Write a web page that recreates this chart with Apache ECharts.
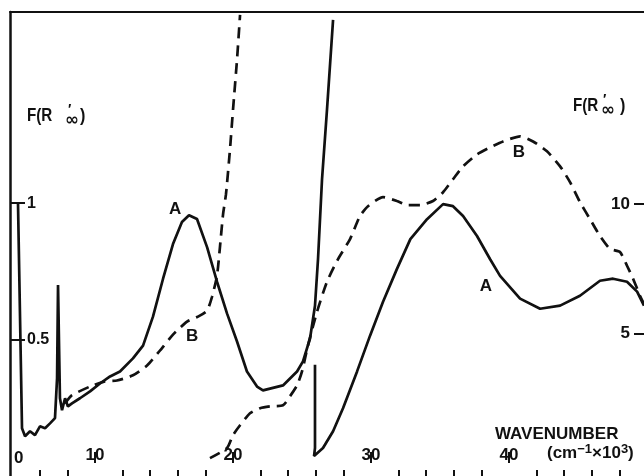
<!DOCTYPE html>
<html>
<head>
<meta charset="utf-8">
<script src="https://cdn.jsdelivr.net/npm/echarts@6/dist/echarts.min.js"></script>
<style>
html,body{margin:0;padding:0;background:#fff;}
#chart{width:644px;height:476px;}
</style>
</head>
<body>
<div id="chart"></div>
<script>
// ---- axis ranges ----
const xRange = [3.84, 49.78];
const leftRange = [0, 1.7007];
const rightRange = [-0.5, 17.42];

// ---- ticks ----
const xMajorTicks = [10, 20, 30, 40];
const xMinorTicks = [6, 8, 12, 14, 16, 18, 22, 24, 26, 28, 32, 34, 36, 38, 42, 44, 46, 48];
const leftTicks = [0.5, 1];
const rightTicks = [5, 10];

// ---- curves (wavenumber x10^3, F(R'inf)) ----
// left scale (0..1)
const curveA_left = [
  [4.42,1.00],[4.71,0.175],[4.93,0.146],[5.29,0.164],[5.65,0.150],[6.01,0.182],[6.38,0.175],
  [6.74,0.193],[7.10,0.212],[7.25,0.358],[7.32,0.70],[7.46,0.285],[7.61,0.241],[7.83,0.285],
  [8.04,0.255],[8.33,0.266],[8.91,0.285],[9.64,0.310],[10.36,0.339],[11.09,0.365],[11.81,0.383],
  [12.75,0.431],[13.48,0.478],[14.20,0.584],[14.93,0.723],[15.65,0.850],[16.30,0.931],[16.81,0.956],
  [17.39,0.942],[18.12,0.839],[18.84,0.712],[19.57,0.595],[20.29,0.493],[21.01,0.383],[21.74,0.328],
  [22.17,0.314],[23.62,0.332],[24.64,0.383],[25.07,0.420],[25.58,0.504],[25.94,0.624],[26.16,0.796],
  [26.45,1.088],[26.81,1.343],[27.25,1.672]
];
const curveB_left = [
  [7.83,0.266],[8.33,0.296],[9.64,0.328],[10.72,0.347],[11.59,0.350],[12.75,0.369],[13.77,0.405],
  [14.71,0.460],[15.65,0.518],[16.67,0.566],[17.46,0.584],[18.12,0.606],[18.48,0.657],[18.84,0.734],
  [19.06,0.843],[19.28,0.960],[19.49,1.033],[19.78,1.197],[20.00,1.343],[20.29,1.526],[20.51,1.690]
];
// right scale (0..10+)
const curveA_right = [
  [25.94,3.80],[25.94,0.58],[25.87,0.27],[26.52,0.58],[27.25,1.23],[27.97,2.12],[28.99,3.54],
  [29.93,4.92],[30.87,6.23],[31.88,7.50],[32.85,8.65],[34.06,9.42],[35.22,10.0],[35.94,9.92],
  [36.67,9.54],[37.68,8.77],[38.62,7.88],[39.35,7.23],[40.80,6.35],[42.25,5.96],[43.70,6.08],
  [45.14,6.46],[46.59,7.04],[47.54,7.12],[48.55,7.00],[49.28,6.62],[49.78,6.08]
];
const curveB_right = [
  [18.33,0.19],[19.57,0.58],[20.00,1.08],[20.51,1.46],[21.23,1.92],[21.96,2.12],[22.68,2.19],
  [23.62,2.23],[24.13,2.58],[24.64,3.00],[25.00,3.54],[25.43,4.54],[26.09,5.85],[26.81,7.00],
  [27.61,7.88],[28.48,8.65],[29.20,9.54],[29.78,9.92],[30.87,10.27],[31.88,10.12],[32.68,9.96],
  [33.55,9.96],[34.49,10.12],[35.22,10.46],[35.94,10.96],[36.67,11.46],[37.68,11.92],[38.62,12.19],
  [39.57,12.42],[40.80,12.62],[41.74,12.42],[42.75,12.04],[43.70,11.46],[44.42,10.85],[45.14,10.08],
  [45.87,9.42],[46.59,8.77],[47.32,8.27],[48.04,8.15],[48.55,7.62],[48.99,7.12],[49.49,6.46],[49.78,6.15]
];

// ---- curve labels (data coords) ----
const labelA_left = [15.8, 0.978];
const labelB_left = [17.03, 0.511];
const labelA_right = [38.33, 6.81];
const labelB_right = [40.72, 12.0];

const FONT = 'Liberation Sans';
const INK = '#111';

function lbl(text, coord) {
  return {
    coord: coord, value: text, symbol: 'circle', symbolSize: 0,
    label: {show: true, position: 'inside', formatter: text, color: INK,
            fontFamily: FONT, fontWeight: 'bold', fontSize: 17}
  };
}

const solid = {color: INK, width: 2.7, type: 'solid'};
const dashed = {color: INK, width: 2.7, type: [11, 7]};

function frLabel(x, y, infX, closeX, primeX) {
  return {
    type: 'group', left: x, top: y,
    children: [
      {type: 'text', x: 0, y: 0, scaleX: 0.8, style: {text: 'F(R', fill: INK, font: 'bold 19px "Liberation Sans"'}},
      {type: 'text', x: primeX, y: -3, style: {text: '′', fill: INK, font: 'bold 14px "Liberation Sans"'}},
      {type: 'text', x: infX, y: 6, style: {text: '∞', fill: INK, font: 'bold 17px "DejaVu Sans"'}},
      {type: 'text', x: closeX, y: 0, scaleX: 0.85, style: {text: ')', fill: INK, font: 'bold 19px "Liberation Sans"'}}
    ]
  };
}

const chart = echarts.init(document.getElementById('chart'), null, {renderer: 'canvas'});
chart.setOption({
  backgroundColor: '#fff',
  animation: false,
  grid: {left: 10, top: 12, width: 634, height: 466, containLabel: false},
  xAxis: [
    {
      type: 'value', min: xRange[0], max: xRange[1], position: 'bottom',
      axisLine: {show: false},
      splitLine: {show: false},
      axisTick: {show: true, inside: true, length: 6, customValues: xMinorTicks,
                 lineStyle: {color: INK, width: 2}},
      axisLabel: {show: true, inside: true, margin: 12, customValues: xMajorTicks,
                  color: INK, fontFamily: FONT, fontWeight: 'bold', fontSize: 17}
    },
    {
      type: 'value', min: xRange[0], max: xRange[1], position: 'bottom',
      axisLine: {show: false}, splitLine: {show: false},
      axisTick: {show: true, inside: true, length: 11, customValues: xMajorTicks,
                 lineStyle: {color: INK, width: 2}},
      axisLabel: {show: false}
    },
    {
      type: 'value', min: xRange[0], max: xRange[1], position: 'top',
      axisLine: {show: true, lineStyle: {color: INK, width: 2}},
      splitLine: {show: false}, axisTick: {show: false}, axisLabel: {show: false}
    }
  ],
  yAxis: [
    {
      type: 'value', min: leftRange[0], max: leftRange[1], position: 'left',
      axisLine: {show: true, lineStyle: {color: INK, width: 2.5}},
      splitLine: {show: false},
      axisTick: {show: true, inside: true, length: 15, customValues: leftTicks,
                 lineStyle: {color: INK, width: 2}},
      axisLabel: {show: true, inside: true, margin: 17, customValues: leftTicks,
                  color: INK, fontFamily: FONT, fontWeight: 'bold', fontSize: 16}
    },
    {
      type: 'value', min: rightRange[0], max: rightRange[1], position: 'right',
      axisLine: {show: false},
      splitLine: {show: false},
      axisTick: {show: true, inside: true, length: 10, customValues: rightTicks,
                 lineStyle: {color: INK, width: 2}},
      axisLabel: {show: true, inside: true, margin: 14, customValues: rightTicks,
                  color: INK, fontFamily: FONT, fontWeight: 'bold', fontSize: 17}
    }
  ],
  series: [
    {name: 'A', type: 'line', xAxisIndex: 0, yAxisIndex: 0, data: curveA_left,
     showSymbol: false, lineStyle: solid, silent: true,
     markPoint: {data: [lbl('A', labelA_left)], animation: false}},
    {name: 'B', type: 'line', xAxisIndex: 0, yAxisIndex: 0, data: curveB_left,
     showSymbol: false, lineStyle: dashed, silent: true, smooth: 0.2,
     markPoint: {data: [lbl('B', labelB_left)], animation: false}},
    {name: 'A2', type: 'line', xAxisIndex: 0, yAxisIndex: 1, data: curveA_right,
     showSymbol: false, lineStyle: solid, silent: true,
     markPoint: {data: [lbl('A', labelA_right)], animation: false}},
    {name: 'B2', type: 'line', xAxisIndex: 0, yAxisIndex: 1, data: curveB_right,
     showSymbol: false, lineStyle: dashed, silent: true, smooth: 0.2,
     markPoint: {data: [lbl('B', labelB_right)], animation: false}}
  ],
  graphic: [
    frLabel(27, 103, 38, 53, 41),
    frLabel(573, 93, 28, 47, 30),
    {type: 'text', left: 14, top: 450, style: {text: '0', fill: INK, font: 'bold 17px "Liberation Sans"'}},
    {type: 'text', left: 495, top: 426, style: {text: 'WAVENUMBER', fill: INK, font: 'bold 17px "Liberation Sans"'}},
    {type: 'text', left: 547, top: 443, style: {text: '(cm{sup|−1}×10{sup|3})', fill: INK, font: 'bold 17px "Liberation Sans"',
      rich: {sup: {fontFamily: FONT, fontWeight: 'bold', fontSize: 13, fill: INK, padding: [0,0,8,0]}}}}
  ]
});
</script>
</body>
</html>
